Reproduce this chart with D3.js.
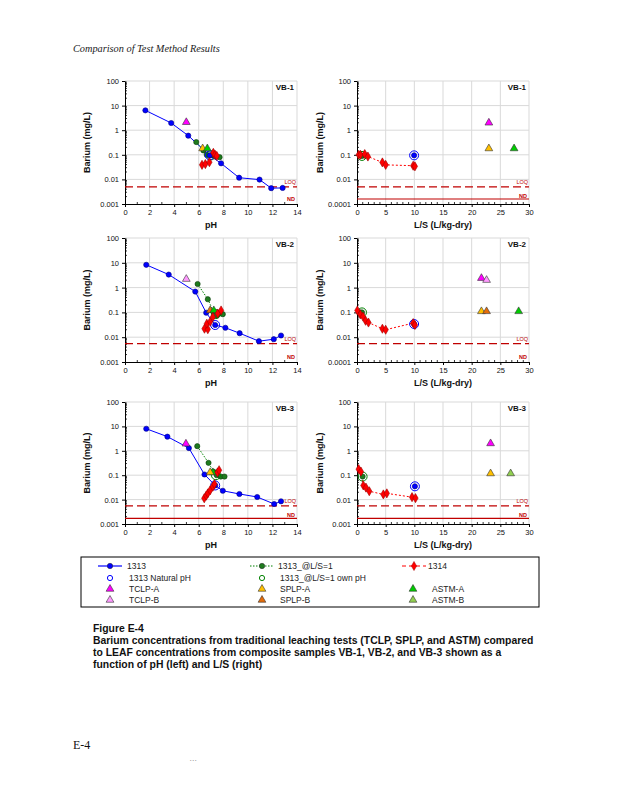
<!DOCTYPE html>
<html><head><meta charset="utf-8">
<script src="https://cdn.jsdelivr.net/npm/d3@7/dist/d3.min.js"></script>
<style>body{margin:0;background:#fff}svg{display:block}</style>
</head><body>
<script>
// ---------------- DATA ----------------
const samples = ["VB-1","VB-2","VB-3"];
const yTickValues = [100,10,1,0.1,0.01,0.001];
const yTickLabelsLeft = ["100","10","1","0.1","0.01","0.001"];
const yTickLabelsRight = [["100","10","1","0.1","0.01","0.0001"],["100","10","1","0.1","0.01","0.0001"],["100","10","1","0.1","0.01","0.001"]];
const pHTicks = [0,2,4,6,8,10,12,14];
const lsTicks = [0,5,10,15,20,25,30];
const loqValues = [0.005,0.0055,0.0055];
const ndValues = [0.0016,0.0016,0.0017];
const ndLineOnPH = [false,false,true];
const ndLineOnLS = [true,false,true];

// VB-1
const vb1_pH_1313 = [[1.66,6.4],[3.76,1.96],[5.15,0.60],[6.9,0.095],[7.82,0.045],[9.29,0.0117],[10.95,0.0098],[11.9,0.0044],[12.83,0.0045]];
const vb1_pH_1313nat = [[6.9,0.095]];
const vb1_pH_ls1 = [[5.8,0.33],[6.38,0.15],[6.65,0.10],[7.0,0.095],[7.3,0.09],[7.7,0.08]];
const vb1_pH_ls1own = [[7.0,0.095]];
const vb1_pH_1314 = [[6.27,0.039],[6.54,0.042],[6.87,0.05],[7.19,0.12],[7.33,0.10],[7.47,0.09]];
const vb1_pH_tri = [["TCLP-A",4.99,2.1],["SPLP-A",6.32,0.18],["ASTM-A",6.7,0.18]];
const vb1_LS_1313 = [[9.96,0.095]];
const vb1_LS_ls1 = [[0.5,0.1],[0.87,0.09]];
const vb1_LS_1314 = [[0.3,0.1],[0.6,0.1],[1.35,0.107],[1.9,0.085],[4.43,0.049],[5.0,0.039],[9.8,0.036],[10.1,0.034]];
const vb1_LS_tri = [["TCLP-A",23.0,2.0],["SPLP-A",23.0,0.18],["ASTM-A",27.4,0.18]];

// VB-2
const vb2_pH_1313 = [[1.73,8.3],[3.56,3.35],[5.72,0.69],[6.61,0.097],[7.34,0.031],[8.17,0.024],[9.33,0.0145],[10.9,0.0069],[12.11,0.0083],[12.7,0.0117]];
const vb2_pH_1313nat = [[7.34,0.031]];
const vb2_pH_ls1 = [[5.91,1.4],[6.74,0.34],[7.2,0.11],[7.47,0.076],[7.66,0.09],[7.96,0.085]];
const vb2_pH_ls1own = [[7.4,0.085]];
const vb2_pH_1314 = [[6.47,0.022],[6.74,0.021],[6.66,0.035],[6.93,0.042],[7.15,0.065],[7.55,0.09],[7.82,0.12]];
const vb2_pH_tri = [["TCLP-B",4.99,2.2],["SPLP-B",6.93,0.12],["ASTM-A",7.23,0.12]];
const vb2_LS_1313 = [[9.96,0.034]];
const vb2_LS_ls1 = [[0.5,0.1],[0.87,0.1]];
const vb2_LS_1314 = [[0.06,0.12],[0.58,0.083],[1.05,0.068],[1.5,0.046],[2.0,0.039],[4.43,0.022],[5.0,0.020],[9.8,0.037],[10.1,0.031]];
const vb2_LS_tri = [["TCLP-A",21.7,2.4],["TCLP-B",22.6,2.0],["SPLP-A",21.7,0.11],["SPLP-B",22.6,0.11],["ASTM-A",28.2,0.11]];

// VB-3
const vb3_pH_1313 = [[1.73,8.0],[3.45,3.8],[5.2,1.29],[6.47,0.107],[7.34,0.038],[7.96,0.023],[9.31,0.017],[10.76,0.0128],[12.14,0.0066],[12.7,0.0085]];
const vb3_pH_1313nat = [[7.34,0.038]];
const vb3_pH_ls1 = [[5.88,1.55],[6.8,0.32],[7.2,0.14],[7.47,0.10],[7.8,0.088],[8.1,0.088]];
const vb3_pH_ls1own = [[7.4,0.1]];
const vb3_pH_1314 = [[6.45,0.0113],[6.61,0.0145],[6.74,0.018],[6.93,0.024],[7.15,0.034],[7.28,0.043],[7.53,0.13],[7.66,0.16]];
const vb3_pH_tri = [["TCLP-A",4.96,1.94],["ASTM-A",7.15,0.13],["SPLP-A",6.93,0.13]];
const vb3_LS_1313 = [[10.1,0.035]];
const vb3_LS_ls1 = [[0.98,0.088]];
const vb3_LS_1314 = [[0.29,0.177],[0.69,0.14],[1.1,0.038],[1.56,0.031],[2.14,0.022],[4.6,0.0163],[5.2,0.018],[9.6,0.0126],[10.2,0.0115]];
const vb3_LS_tri = [["TCLP-A",23.3,2.0],["SPLP-A",23.3,0.117],["ASTM-B",26.8,0.117]];

const legendLabels = ["1313","1313_@L/S=1","1314","1313 Natural pH","1313_@L/S=1 own pH","TCLP-A","SPLP-A","ASTM-A","TCLP-B","SPLP-B","ASTM-B"];
const triColors = {"TCLP-A":"#FF00FF","TCLP-B":"#FF99FF","SPLP-A":"#FFC000","SPLP-B":"#E46C0A","ASTM-A":"#00CC00","ASTM-B":"#92D050"};

// ---------------- LAYOUT ----------------
const W=618,H=800;
const svg=d3.select("body").append("svg").attr("width",W).attr("height",H);
const FONT="Arial, 'Liberation Sans', sans-serif";

svg.append("text").attr("x",73).attr("y",52).attr("font-family","'Liberation Serif', serif")
  .attr("font-style","italic").attr("font-size",10.3).attr("fill","#222").text("Comparison of Test Method Results");

const cols=[{x0:125,x1:297},{x0:357,x1:529}];
const rows=[{y0:81,y1:204},{y0:238,y1:362},{y0:402,y1:524}];

const panelData = [
  {pH:{s1313:vb1_pH_1313,nat:vb1_pH_1313nat,ls1:vb1_pH_ls1,own:vb1_pH_ls1own,s1314:vb1_pH_1314,tri:vb1_pH_tri},
   LS:{s1313:vb1_LS_1313,nat:vb1_LS_1313,ls1:vb1_LS_ls1,own:[vb1_LS_ls1[1]],s1314:vb1_LS_1314,tri:vb1_LS_tri}},
  {pH:{s1313:vb2_pH_1313,nat:vb2_pH_1313nat,ls1:vb2_pH_ls1,own:vb2_pH_ls1own,s1314:vb2_pH_1314,tri:vb2_pH_tri},
   LS:{s1313:vb2_LS_1313,nat:vb2_LS_1313,ls1:vb2_LS_ls1,own:[vb2_LS_ls1[1]],s1314:vb2_LS_1314,tri:vb2_LS_tri}},
  {pH:{s1313:vb3_pH_1313,nat:vb3_pH_1313nat,ls1:vb3_pH_ls1,own:vb3_pH_ls1own,s1314:vb3_pH_1314,tri:vb3_pH_tri},
   LS:{s1313:vb3_LS_1313,nat:vb3_LS_1313,ls1:vb3_LS_ls1,own:vb3_LS_ls1,s1314:vb3_LS_1314,tri:vb3_LS_tri}}
];

const triPath = d3.symbol().type(d3.symbolTriangle).size(26);
const diaPath = d3.symbol().type(d3.symbolDiamond).size(24);

function drawPanel(ri,ci){
  const r=rows[ri], c=cols[ci];
  const isPH = ci===0;
  const d = isPH? panelData[ri].pH : panelData[ri].LS;
  const x = d3.scaleLinear().domain(isPH?[0,14]:[0,30]).range([c.x0,c.x1]);
  const y = d3.scaleLog().domain([0.001,100]).range([r.y1,r.y0]);
  const g = svg.append("g");
  const xt = isPH? pHTicks : lsTicks;
  // grid
  g.selectAll(".gx").data(xt.slice(1)).enter().append("line")
    .attr("x1",v=>x(v)).attr("x2",v=>x(v)).attr("y1",r.y0).attr("y2",r.y1)
    .attr("stroke","#d9d9d9").attr("stroke-width",1);
  g.selectAll(".gy").data(yTickValues.slice(0,5)).enter().append("line")
    .attr("x1",c.x0).attr("x2",c.x1).attr("y1",v=>y(v)).attr("y2",v=>y(v))
    .attr("stroke","#d9d9d9").attr("stroke-width",1);
  // axes
  const xa = d3.axisBottom(x).tickValues(xt).tickSize(3).tickSizeOuter(0).tickFormat(d3.format("d"));
  const xg = g.append("g").attr("transform",`translate(0,${r.y1})`).call(xa);
  xg.selectAll("text").attr("font-family",FONT).attr("font-size",7.5).attr("fill","#111");
  const labels = isPH? yTickLabelsLeft : yTickLabelsRight[ri];
  const ya = d3.axisLeft(y).tickValues(yTickValues).tickSize(3).tickSizeOuter(0).tickFormat((v,i)=>labels[i]);
  const yg = g.append("g").attr("transform",`translate(${c.x0},0)`).call(ya);
  yg.selectAll("text").attr("font-family",FONT).attr("font-size",7.5).attr("fill","#111");
  [xg,yg].forEach(a=>{a.select(".domain").attr("stroke","#000");a.selectAll(".tick line").attr("stroke","#000");});
  // minor ticks
  const minors=[];
  [0.001,0.01,0.1,1,10].forEach(dec=>{for(let k=2;k<10;k++)minors.push(dec*k);});
  g.selectAll(".mt").data(minors).enter().append("line")
    .attr("x1",c.x0).attr("x2",c.x0+2).attr("y1",v=>y(v)).attr("y2",v=>y(v)).attr("stroke","#000").attr("stroke-width",0.8);
  const xminor = isPH? d3.range(1,14,2) : d3.range(1,30).filter(v=>v%5);
  g.selectAll(".mx").data(xminor).enter().append("line")
    .attr("x1",v=>x(v)).attr("x2",v=>x(v)).attr("y1",r.y1).attr("y2",r.y1-2).attr("stroke","#000").attr("stroke-width",0.8);
  // axis titles
  g.append("text").attr("transform",`translate(${isPH?90:323},${(r.y0+r.y1)/2}) rotate(-90)`)
    .attr("text-anchor","middle").attr("font-family",FONT).attr("font-weight","bold").attr("font-size",9).attr("fill","#111").text("Barium (mg/L)");
  g.append("text").attr("x",(c.x0+c.x1)/2).attr("y",r.y1+24).attr("text-anchor","middle")
    .attr("font-family",FONT).attr("font-weight","bold").attr("font-size",9).attr("fill","#111").text(isPH?"pH":"L/S (L/kg-dry)");
  g.append("text").attr("x",c.x1-3).attr("y",r.y0+9).attr("text-anchor","end")
    .attr("font-family",FONT).attr("font-weight","bold").attr("font-size",8).attr("fill","#111").text(samples[ri]);
  // LOQ / ND
  g.append("line").attr("x1",c.x0).attr("x2",c.x1).attr("y1",y(loqValues[ri])).attr("y2",y(loqValues[ri]))
    .attr("stroke","#C00000").attr("stroke-width",1.2).attr("stroke-dasharray","8,4");
  const ndShow = isPH? ndLineOnPH[ri] : ndLineOnLS[ri];
  if(ndShow) g.append("line").attr("x1",c.x0).attr("x2",c.x1).attr("y1",y(ndValues[ri])).attr("y2",y(ndValues[ri]))
    .attr("stroke","#C00000").attr("stroke-width",1.2);
  g.append("text").attr("x",c.x1-1).attr("y",y(loqValues[ri])-2.5).attr("text-anchor","end")
    .attr("font-family",FONT).attr("font-size",5.5).attr("fill","#C00000").text("LOQ");
  g.append("text").attr("x",c.x1-2).attr("y",y(ndValues[ri])+ (ndShow?-1:2)).attr("text-anchor","end")
    .attr("font-family",FONT).attr("font-size",5.5).attr("font-weight","bold").attr("fill","#C00000").text("ND");

  const line = d3.line().x(p=>x(p[0])).y(p=>y(p[1]));
  const byX = a=>a.slice().sort((p,q)=>p[0]-q[0]);
  if(d.s1313.length>1) g.append("path").attr("d",line(byX(d.s1313))).attr("fill","none").attr("stroke","#0000FF").attr("stroke-width",1);
  if(d.ls1.length>1) g.append("path").attr("d",line(byX(d.ls1))).attr("fill","none").attr("stroke","#008000").attr("stroke-width",1).attr("stroke-dasharray","1.5,1.5");
  if(!isPH) g.append("path").attr("d",line(d.s1314)).attr("fill","none").attr("stroke","#FF0000").attr("stroke-width",1).attr("stroke-dasharray","2,2");
  // markers
  g.selectAll(".ls1").data(d.ls1).enter().append("circle").attr("cx",p=>x(p[0])).attr("cy",p=>y(p[1])).attr("r",2.6)
    .attr("fill","#1E7B1E").attr("stroke","#0B3D0B").attr("stroke-width",0.6);
  g.selectAll(".own").data(d.own).enter().append("circle").attr("cx",p=>x(p[0])).attr("cy",p=>y(p[1])).attr("r",4.5)
    .attr("fill","none").attr("stroke","#008000").attr("stroke-width",1);
  g.selectAll(".b").data(d.s1313).enter().append("circle").attr("cx",p=>x(p[0])).attr("cy",p=>y(p[1])).attr("r",2.6)
    .attr("fill","#0000FF").attr("stroke","#000080").attr("stroke-width",0.6);
  g.selectAll(".nat").data(d.nat).enter().append("circle").attr("cx",p=>x(p[0])).attr("cy",p=>y(p[1])).attr("r",4.5)
    .attr("fill","none").attr("stroke","#0000FF").attr("stroke-width",1);
  g.selectAll(".tri").data(d.tri).enter().append("path").attr("d",triPath)
    .attr("transform",p=>`translate(${x(p[1])},${y(p[2])})`).attr("fill",p=>triColors[p[0]]).attr("stroke","#333").attr("stroke-width",0.6);
  g.selectAll(".r").data(d.s1314).enter().append("path").attr("d",diaPath)
    .attr("transform",p=>`translate(${x(p[0])},${y(p[1])})`).attr("fill","#FF0000").attr("stroke","#A00000").attr("stroke-width",0.6);
}
for(let ri=0;ri<3;ri++)for(let ci=0;ci<2;ci++)drawPanel(ri,ci);

// ---------------- LEGEND ----------------
const lg=svg.append("g");
lg.append("rect").attr("x",81).attr("y",557).attr("width",458).attr("height",50).attr("fill","#fff").attr("stroke","#000").attr("stroke-width",1);
const legRows=[566,578,589,600];
const colX=[{sx:98,tx:127},{sx:250,tx:278},{sx:402,tx:428}];
const legItems=[
 {c:0,r:0,kind:"line",color:"#0000FF",dash:null,mk:"circle",fill:"#0000FF",label:legendLabels[0]},
 {c:1,r:0,kind:"line",color:"#008000",dash:"1.5,1.5",mk:"circle",fill:"#1E7B1E",label:legendLabels[1]},
 {c:2,r:0,kind:"line",color:"#FF0000",dash:"4,3",mk:"diamond",fill:"#FF0000",label:legendLabels[2]},
 {c:0,r:1,kind:"open",color:"#0000FF",label:legendLabels[3]},
 {c:1,r:1,kind:"open",color:"#008000",label:legendLabels[4]},
 {c:0,r:2,kind:"tri",fill:triColors["TCLP-A"],label:legendLabels[5]},
 {c:1,r:2,kind:"tri",fill:triColors["SPLP-A"],label:legendLabels[6]},
 {c:2,r:2,kind:"tri",fill:triColors["ASTM-A"],label:legendLabels[7]},
 {c:0,r:3,kind:"tri",fill:triColors["TCLP-B"],label:legendLabels[8]},
 {c:1,r:3,kind:"tri",fill:triColors["SPLP-B"],label:legendLabels[9]},
 {c:2,r:3,kind:"tri",fill:triColors["ASTM-B"],label:legendLabels[10]}
];
legItems.forEach(it=>{
  const cx=colX[it.c], yy=legRows[it.r];
  let tx=cx.tx;
  if(it.kind==="line"){
    lg.append("line").attr("x1",cx.sx).attr("x2",cx.sx+24).attr("y1",yy).attr("y2",yy).attr("stroke",it.color).attr("stroke-width",1.2).attr("stroke-dasharray",it.dash);
    if(it.mk==="circle") lg.append("circle").attr("cx",cx.sx+12).attr("cy",yy).attr("r",2.7).attr("fill",it.fill).attr("stroke","#222").attr("stroke-width",0.5);
    else lg.append("path").attr("d",diaPath).attr("transform",`translate(${cx.sx+12},${yy})`).attr("fill",it.fill).attr("stroke","#A00000").attr("stroke-width",0.5);
  } else if(it.kind==="open"){
    lg.append("circle").attr("cx",cx.sx+12).attr("cy",yy).attr("r",2.6).attr("fill","none").attr("stroke",it.color).attr("stroke-width",1);
    tx=cx.tx+2;
  } else {
    const sx = it.c===2? 413 : cx.sx+12;
    lg.append("path").attr("d",triPath).attr("transform",`translate(${sx},${yy})`).attr("fill",it.fill).attr("stroke","#333").attr("stroke-width",0.6);
    tx = it.c===2? 432 : cx.tx+2;
  }
  lg.append("text").attr("x",tx).attr("y",yy+3).attr("font-family",FONT).attr("font-size",8.5).attr("fill","#222").text(it.label);
});

// ---------------- CAPTION ----------------
const cap=["Figure E-4","Barium concentrations from traditional leaching tests (TCLP, SPLP, and ASTM) compared","to LEAF concentrations from composite samples VB-1, VB-2, and VB-3 shown as a","function of pH (left) and L/S (right)"];
const capY=[632,644,656,668];
cap.forEach((t,i)=>svg.append("text").attr("x",93).attr("y",capY[i]).attr("font-family",FONT).attr("font-weight","bold")
  .attr("font-size",10.4).attr("fill","#111").text(t));

svg.append("text").attr("x",73).attr("y",749).attr("font-family","'Liberation Serif', serif").attr("font-size",12).attr("fill","#111").text("E-4");
svg.append("text").attr("x",190).attr("y",762).attr("font-family",FONT).attr("font-size",4).attr("fill","#999").text("•  • •");
</script>
</body></html>
